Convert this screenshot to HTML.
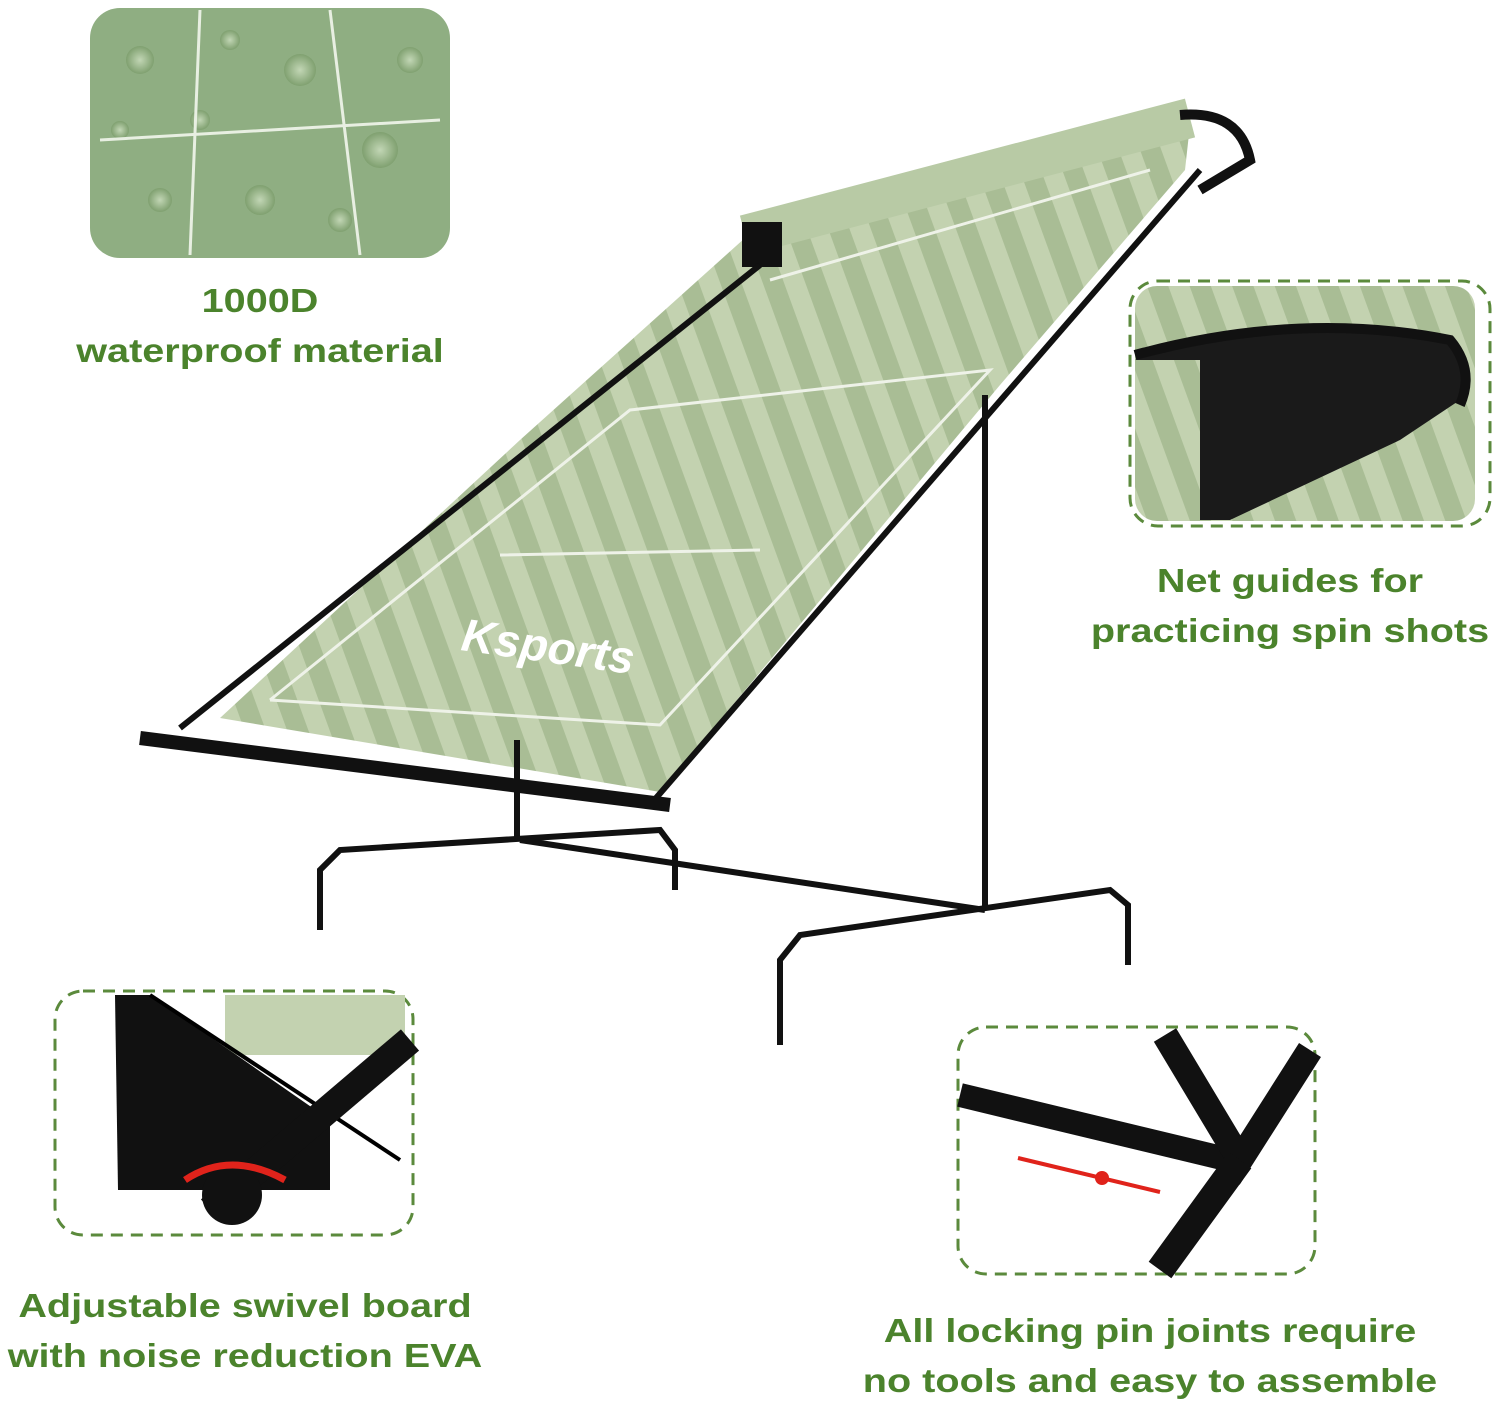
<!DOCTYPE html>
<html><head><meta charset="utf-8"><style>
html,body{margin:0;padding:0;background:#fff;}
body{width:1500px;height:1404px;position:relative;overflow:hidden;font-family:"Liberation Sans",sans-serif;}
.t{position:absolute;color:#4b832c;font-weight:bold;font-size:33px;text-align:center;white-space:nowrap;transform:scaleX(1.2);}
</style></head><body>
<svg width="1500" height="1404" style="position:absolute;left:0;top:0">
<defs>
<pattern id="str" width="40" height="40" patternUnits="userSpaceOnUse" patternTransform="rotate(-20)">
<rect width="40" height="40" fill="#a9bd95"/><rect width="20" height="40" fill="#c3d2b0"/>
</pattern>
<radialGradient id="drop"><stop offset="0" stop-color="#c8dbbb"/><stop offset="1" stop-color="#7e9f6e"/></radialGradient>
</defs>
<rect x="90" y="8" width="360" height="250" rx="30" fill="#8fae82"/>
<g fill="url(#drop)" opacity="0.9">
<circle cx="140" cy="60" r="14"/><circle cx="200" cy="120" r="10"/><circle cx="300" cy="70" r="16"/><circle cx="380" cy="150" r="18"/><circle cx="160" cy="200" r="12"/><circle cx="260" cy="200" r="15"/><circle cx="410" cy="60" r="13"/><circle cx="340" cy="220" r="12"/><circle cx="120" cy="130" r="9"/><circle cx="230" cy="40" r="10"/>
</g>
<path d="M100 140 L440 120 M200 10 L190 255 M330 10 L360 255" stroke="#e8efe2" stroke-width="3" fill="none"/>
<rect x="1130" y="281" width="360" height="245" rx="28" fill="none" stroke="#5b8a3c" stroke-width="3" stroke-dasharray="12 8"/>
<rect x="1135" y="286" width="340" height="235" rx="22" fill="url(#str)"/>
<path d="M1135 360 Q1250 320 1440 335 Q1470 350 1460 400 L1400 440 L1230 520 L1200 520 L1200 360 Z" fill="#1a1a1a"/>
<path d="M1135 355 Q1300 310 1450 340 Q1475 370 1460 405" stroke="#111" stroke-width="10" fill="none"/>
<rect x="55" y="991" width="358" height="244" rx="28" fill="none" stroke="#5b8a3c" stroke-width="3" stroke-dasharray="12 8"/>
<rect x="225" y="995" width="180" height="60" fill="#c3d2b0"/>
<path d="M115 995 L150 995 L330 1120 L330 1190 L118 1190 Z" fill="#111"/>
<path d="M150 995 L400 1160" stroke="#000" stroke-width="4"/>
<path d="M410 1040 L210 1210" stroke="#111" stroke-width="28"/>
<circle cx="232" cy="1195" r="30" fill="#111"/>
<path d="M185 1180 Q230 1150 285 1180" stroke="#e0231b" stroke-width="7" fill="none"/>
<rect x="958" y="1027" width="357" height="247" rx="28" fill="none" stroke="#5b8a3c" stroke-width="3" stroke-dasharray="12 8"/>
<path d="M960 1095 L1230 1160" stroke="#111" stroke-width="24"/>
<path d="M1165 1035 L1240 1160 L1310 1050" stroke="#111" stroke-width="26" fill="none"/>
<path d="M1240 1160 L1160 1270" stroke="#111" stroke-width="28"/>
<path d="M1018 1158 L1160 1192" stroke="#e0231b" stroke-width="4"/>
<circle cx="1102" cy="1178" r="7" fill="#e0231b"/>
<polygon points="765,220 1190,125 1185,170 1000,385 660,792 220,718 520,440" fill="url(#str)"/>
<path d="M270,700 L660,725 L990,370 L630,410 L270,700 M500,555 L760,550 M770,280 L1150,170" stroke="#eef2e8" stroke-width="3" fill="none"/>
<text x="460" y="650" font-family="Liberation Sans" font-weight="bold" font-style="italic" font-size="46" fill="#fff" transform="rotate(8 460 650)">Ksports</text>
<path d="M745 235 L1190 118" stroke="#b8caa5" stroke-width="40"/>
<rect x="742" y="222" width="40" height="45" fill="#111"/>
<path d="M1180 115 Q1240 110 1250 160 L1200 190" stroke="#111" stroke-width="10" fill="none"/>
<g stroke="#111" fill="none">
<path d="M180 728 L760 265" stroke-width="6"/>
<path d="M650 805 L1200 170" stroke-width="6"/>
<path d="M140 738 L670 805" stroke-width="14"/>
<path d="M517 740 L517 840 M985 395 L985 910" stroke-width="6"/>
<path d="M320 930 L320 870 L340 850 L660 830 L675 850 L675 890" stroke-width="6"/>
<path d="M780 1045 L780 960 L800 935 L1110 890 L1128 905 L1128 965" stroke-width="6"/>
<path d="M520 840 L985 910" stroke-width="6"/>
</g>
</svg>
<div class="t" style="left:60px;top:282px;width:400px;">1000D</div>
<div class="t" style="left:40px;top:332px;width:440px;">waterproof material</div>
<div class="t" style="left:1080px;top:562px;width:420px;">Net guides for</div>
<div class="t" style="left:1080px;top:612px;width:420px;">practicing spin shots</div>
<div class="t" style="left:0px;top:1287px;width:490px;">Adjustable swivel board</div>
<div class="t" style="left:0px;top:1337px;width:490px;">with noise reduction EVA</div>
<div class="t" style="left:860px;top:1312px;width:580px;">All locking pin joints require</div>
<div class="t" style="left:860px;top:1362px;width:580px;">no tools and easy to assemble</div>
</body></html>
